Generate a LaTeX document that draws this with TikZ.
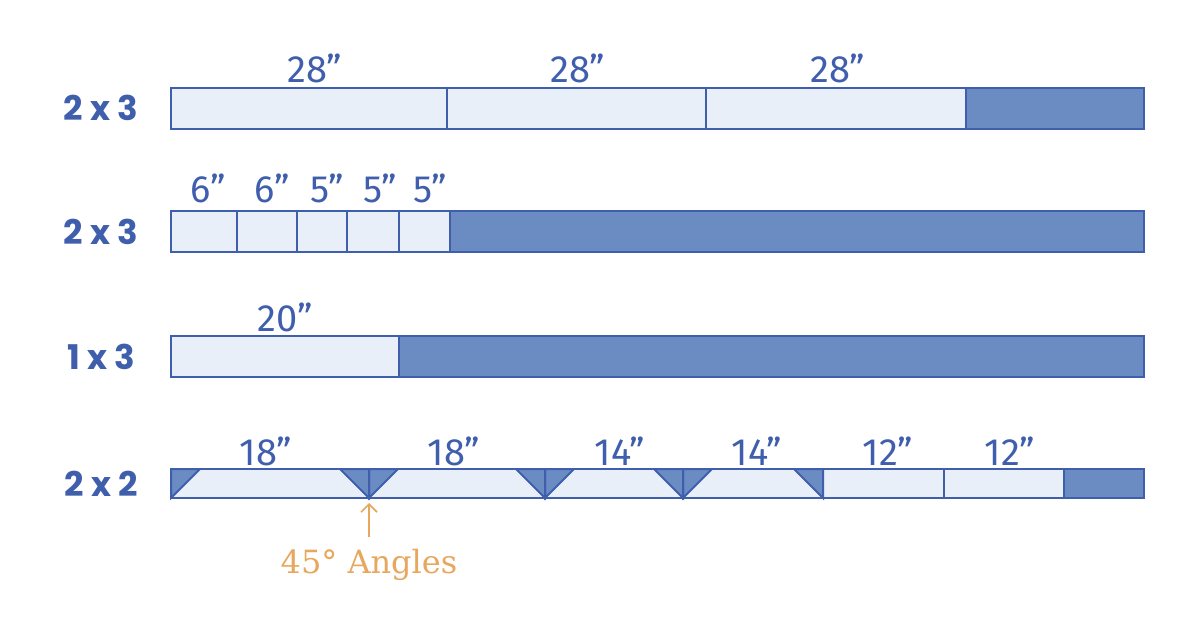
\documentclass[tikz,border=0pt]{standalone}
\usepackage{fontspec}
\usetikzlibrary{arrows.meta}
\newfontfamily\dimfont{Fira Sans}
\newfontfamily\stockfont{Poppins}
\newfontfamily\notefont{DejaVu Serif}
\definecolor{edge}{HTML}{3F5EAC}
\definecolor{cut}{HTML}{E9EFF8}
\definecolor{scrap}{HTML}{6A8CC3}
\definecolor{note}{HTML}{E8A75F}
\tikzset{
  piece/.style={draw=edge, fill=cut, line width=1pt},
  waste/.style={draw=edge, fill=scrap, line width=1pt, line join=miter},
  size/.style={text=edge, font=\dimfont\fontsize{19}{21}\selectfont, inner sep=0pt},
  stock/.style={text=edge, font=\stockfont\bfseries\fontsize{17}{19}\selectfont, inner sep=0pt},
}
\begin{document}
\begin{tikzpicture}[x=0.5pt, y=-0.5pt]
\useasboundingbox (0,0) rectangle (1200,620);
% first 2 x 3 board
\node[stock] (r1) at (101,108) {2 x 3};
\draw[waste] (171,88) rectangle (1144,129);
\foreach \a/\b in {171/447, 447/706, 706/966}
  \draw[piece] (\a,88) rectangle (\b,129);
\node[size] (a1) at (315,68) {28”};
\node[size] (a2) at (578,68) {28”};
\node[size] (a3) at (838,68) {28”};
% second 2 x 3 board
\node[stock] (r2) at (101,232) {2 x 3};
\draw[waste] (171,211) rectangle (1144,252);
\foreach \a/\b in {171/237, 237/297, 297/347, 347/399, 399/450}
  \draw[piece] (\a,211) rectangle (\b,252);
\node[size] (b1) at (208,188) {6”};
\node[size] (b2) at (272,188) {6”};
\node[size] (b3) at (327,188) {5”};
\node[size] (b4) at (380,188) {5”};
\node[size] (b5) at (430,188) {5”};
% 1 x 3 board
\node[stock] (r3) at (101,357) {1 x 3};
\draw[waste] (171,336) rectangle (1144,377);
\draw[piece] (171,336) rectangle (399,377);
\node[size] (c1) at (285,317) {20”};
% 2 x 2 board, mitred pieces
\node[stock] (r4) at (101,484) {2 x 2};
\draw[waste] (171,469) rectangle (1144,498);
\foreach \a/\b in {171/369, 369/545, 545/683, 683/823, 823/944, 944/1064}
  \draw[piece] (\a,469) rectangle (\b,498);
\foreach \x in {171, 369, 545, 683}
  \draw[waste] (\x,469) -- ({\x+29},469) -- (\x,498) -- cycle;
\foreach \x in {369, 545, 683, 823}
  \draw[waste] ({\x-29},469) -- (\x,469) -- (\x,498) -- cycle;
\node[size] (d1) at (266,451) {18”};
\node[size] (d2) at (454,451) {18”};
\node[size] (d3) at (620,451) {14”};
\node[size] (d4) at (757,451) {14”};
\node[size] (d5) at (888,451) {12”};
\node[size] (d6) at (1010,451) {12”};
% note
\coordinate (tip) at (369,503);
\node[text=note, font=\notefont\fontsize{16}{18}\selectfont, inner sep=0pt, anchor=base]
  (angles) at (369,573) {45° Angles};
\draw[note, line width=0.8pt, -{Straight Barb[length=4pt, width=8pt]}] (369,537) -- (tip);
\end{tikzpicture}
\end{document}
